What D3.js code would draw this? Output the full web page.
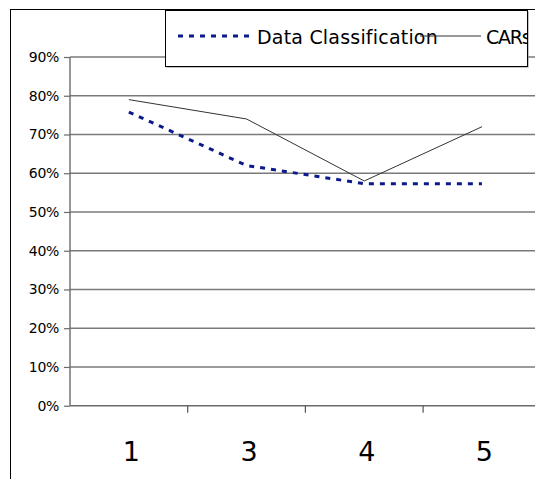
<!DOCTYPE html>
<html>
<head>
<meta charset="utf-8">
<script src="https://cdn.jsdelivr.net/npm/d3@7/dist/d3.min.js"></script>
<style>
  html, body { margin: 0; padding: 0; background: #fff; overflow: hidden; }
  svg { display: block; }
</style>
</head>
<body>
<svg id="chart" width="535" height="479"></svg>
<script>
// ---- data ----
const categories = ["1", "3", "4", "5"];
const seriesNames = ["Data Classification", "CARs"];
const dataClassification = [0.758, 0.62, 0.573, 0.573];
const cars = [0.79, 0.74, 0.58, 0.72];
const yTicks = [0, 0.1, 0.2, 0.3, 0.4, 0.5, 0.6, 0.7, 0.8, 0.9];

const svg = d3.select("#chart");
const font = "DejaVu Sans, Verdana, sans-serif";

// outer chart border (extends beyond viewport on right/bottom)
svg.append("rect")
  .attr("x", 10.5).attr("y", 9.5)
  .attr("width", 700).attr("height", 700)
  .attr("fill", "none").attr("stroke", "#000").attr("stroke-width", 1);

const plotLeft = 70, plotBottom = 405.7, plotTop = 57, band = 117.7;
const x = d3.scaleBand().domain(categories)
  .range([plotLeft, plotLeft + band * categories.length])
  .paddingInner(0).paddingOuter(0);
const y = d3.scaleLinear().domain([0, 0.9]).range([plotBottom, plotTop]);
const plotRight = plotLeft + band * categories.length;

// gridlines
svg.append("g").selectAll("line").data(yTicks.filter(d => d > 0)).join("line")
  .attr("x1", plotLeft).attr("x2", plotRight)
  .attr("y1", d => y(d)).attr("y2", d => y(d))
  .attr("stroke", "#7a7a7a").attr("stroke-width", 1.4);

// y axis
const yAxis = svg.append("g").attr("transform", `translate(${plotLeft},0)`)
  .call(d3.axisLeft(y).tickValues(yTicks).tickFormat(d3.format(".0%")).tickSize(6).tickPadding(5));
yAxis.select(".domain").attr("stroke", "#6a6a6a").attr("stroke-width", 1.4)
  .attr("d", `M0,${plotTop}V${plotBottom}`);
yAxis.selectAll(".tick line").attr("stroke", "#6a6a6a").attr("stroke-width", 1.2);
yAxis.selectAll(".tick text").attr("font-family", font).attr("font-size", 14)
  .attr("letter-spacing", -0.3).attr("fill", "#000");

// x axis
const xAxis = svg.append("g").attr("transform", `translate(0,${plotBottom})`)
  .call(d3.axisBottom(x).tickSize(0).tickPadding(0));
xAxis.select(".domain").attr("stroke", "#6a6a6a").attr("stroke-width", 1.4)
  .attr("d", `M${plotLeft},0H${plotRight}`);
xAxis.selectAll(".tick text").attr("font-family", font).attr("font-size", 27)
  .attr("fill", "#000").attr("dy", null).attr("y", 55).attr("x", 2.5);
// boundary tick marks
xAxis.append("g").selectAll("line").data(categories.slice(1)).join("line")
  .attr("x1", d => x(d)).attr("x2", d => x(d))
  .attr("y1", 0).attr("y2", 7)
  .attr("stroke", "#555").attr("stroke-width", 1.2);

const cx = d => x(d) + x.bandwidth() / 2;

// CARs line
svg.append("path")
  .datum(categories.map((c, i) => [cx(c), y(cars[i])]))
  .attr("d", d3.line())
  .attr("fill", "none").attr("stroke", "#333").attr("stroke-width", 1);

// Data Classification line
svg.append("path")
  .datum(categories.map((c, i) => [cx(c), y(dataClassification[i])]))
  .attr("d", d3.line())
  .attr("fill", "none").attr("stroke", "#0a1a8a").attr("stroke-width", 3)
  .attr("stroke-dasharray", "5,6");

// legend
const lg = svg.append("g");
const lx = 165, ly = 10, lw = 362, lh = 56;
lg.append("rect").attr("x", lx + 1.5).attr("y", ly + 1.5).attr("width", lw).attr("height", lh)
  .attr("fill", "#888");
lg.append("rect").attr("x", lx + 0.5).attr("y", ly + 0.5).attr("width", lw).attr("height", lh)
  .attr("fill", "#fff").attr("stroke", "#000").attr("stroke-width", 1);
svg.append("clipPath").attr("id", "lgclip")
  .append("rect").attr("x", lx + 1).attr("y", ly + 1).attr("width", lw - 1).attr("height", lh - 1);
const lgi = lg.append("g").attr("clip-path", "url(#lgclip)");
const legendY = 36;
lgi.append("line").attr("x1", 178).attr("x2", 252).attr("y1", legendY).attr("y2", legendY)
  .attr("stroke", "#0a1a8a").attr("stroke-width", 3).attr("stroke-dasharray", "5,6");
lgi.append("text").attr("x", 257).attr("y", legendY + 8).text(seriesNames[0])
  .attr("font-family", font).attr("font-size", 19).attr("letter-spacing", 0.2).attr("fill", "#000");
lgi.append("line").attr("x1", 420).attr("x2", 481).attr("y1", legendY).attr("y2", legendY)
  .attr("stroke", "#333").attr("stroke-width", 1);
lgi.append("text").attr("x", 486).attr("y", legendY + 8).text(seriesNames[1])
  .attr("font-family", font).attr("font-size", 19).attr("letter-spacing", -1.2).attr("fill", "#000");
</script>
</body>
</html>
